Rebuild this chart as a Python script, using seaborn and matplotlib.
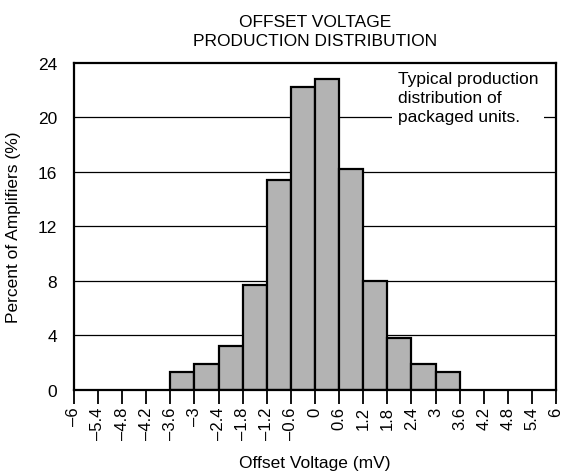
import numpy as np
import pandas as pd
import matplotlib
matplotlib.use("Agg")
import matplotlib.pyplot as plt
import seaborn as sns

# Distribucion de offset (mV) -> porcentaje de amplificadores
bin_edges = [-3.6, -3.0, -2.4, -1.8, -1.2, -0.6, 0.0, 0.6, 1.2, 1.8, 2.4, 3.0, 3.6]
percent = [1.3, 1.9, 3.2, 7.7, 15.4, 22.2, 22.8, 16.2, 8.0, 3.8, 1.9, 1.3]
xticks = [-6, -5.4, -4.8, -4.2, -3.6, -3, -2.4, -1.8, -1.2, -0.6, 0, 0.6,
          1.2, 1.8, 2.4, 3, 3.6, 4.2, 4.8, 5.4, 6]
yticks = [0, 4, 8, 12, 16, 20, 24]

centers = [(a + b) / 2 for a, b in zip(bin_edges[:-1], bin_edges[1:])]
df = pd.DataFrame({"offset": centers, "pct": percent})

sns.set_style("ticks")
plt.rcParams["font.family"] = ["Liberation Sans", "DejaVu Sans"]
plt.rcParams["text.color"] = "black"
plt.rcParams["axes.labelcolor"] = "black"
plt.rcParams["xtick.color"] = "black"
plt.rcParams["ytick.color"] = "black"

fig = plt.figure(figsize=(5.68, 4.77), dpi=100)
ax = fig.add_axes([0.130, 0.181, 0.849, 0.685])

# lineas de la grilla (por debajo de las barras)
for y in yticks[1:-1]:
    ax.axhline(y, color="black", lw=0.9, zorder=0)

sns.histplot(data=df, x="offset", weights="pct", bins=bin_edges,
             color="#b3b3b3", edgecolor="black", linewidth=1.6,
             alpha=1, ax=ax, zorder=2)

ax.set_xlim(-6, 6)
ax.set_ylim(0, 24)
ax.set_xticks(xticks)
ax.set_xticklabels([f"{v:g}".replace("-", "\u2013") for v in xticks],
                   rotation=90, fontsize=12)
ax.set_yticks(yticks)
ax.set_yticklabels([str(v) for v in yticks], fontsize=12.5)
ax.tick_params(axis="x", direction="out", length=10, width=1.3, pad=2)
ax.tick_params(axis="y", length=0, pad=12)

for s in ax.spines.values():
    s.set_visible(True)
    s.set_color("black")
    s.set_linewidth(1.6)
    s.set_zorder(3)

ax.set_xlabel("Offset Voltage (mV)", fontsize=12.5, labelpad=12)
ax.set_ylabel("Percent of Amplifiers (%)", fontsize=12.5, labelpad=12)
ax.set_title("OFFSET VOLTAGE\nPRODUCTION DISTRIBUTION", fontsize=12.5, pad=13, linespacing=1.3)

ax.text(0.672, 0.975, "Typical production\ndistribution of\npackaged units.",
        transform=ax.transAxes, ha="left", va="top", fontsize=12.5,
        linespacing=1.35, zorder=4,
        bbox=dict(facecolor="white", edgecolor="none", pad=4))

fig.savefig("out.png", dpi=100)
